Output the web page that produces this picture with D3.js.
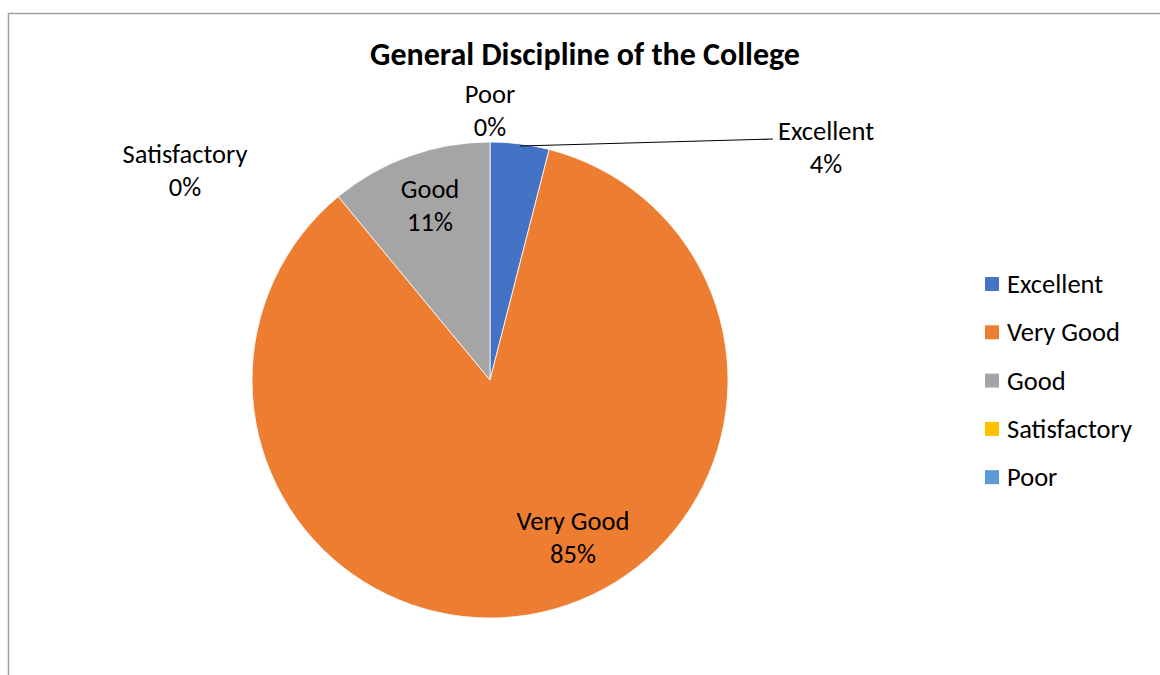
<!DOCTYPE html>
<html><head><meta charset="utf-8">
<script src="https://cdn.jsdelivr.net/npm/d3@7"></script>
<style>
html,body{margin:0;padding:0;background:#fff;}
svg{display:block;font-family:Carlito,Lato,"Open Sans",sans-serif;}
</style></head>
<body><svg id="c" width="1160" height="675"></svg>
<script>
const categories = ["Excellent","Very Good","Good","Satisfactory","Poor"];
const values = [4, 85, 11, 0, 0];
const colors = ["#4472C4","#ED7D31","#A5A5A5","#FFC000","#5B9BD5"];
const title = "General Discipline of the College";

const svg = d3.select("#c");
const W = 1160, H = 675;
const cx = 490, cy = 380, R = 238;
const fs = 26.5;

// frame
svg.append("path").attr("d", `M8.5,${H} L8.5,13.5 L${W},13.5`).attr("fill","none").attr("stroke","#a0a0a0").attr("stroke-width",1.5);

svg.append("text").attr("x",585).attr("y",65).attr("text-anchor","middle")
  .attr("font-size",32).attr("font-weight","bold").attr("fill","#000").text(title);

const data = categories.map((c,i)=>({cat:c, value:values[i], color:colors[i]}));
const pie = d3.pie().sort(null).value(d=>d.value);
const arcs = pie(data);
const arc = d3.arc().innerRadius(0).outerRadius(R);
const g = svg.append("g").attr("transform",`translate(${cx},${cy})`);
g.selectAll("path").data(arcs).join("path")
  .attr("d",arc).attr("fill",d=>d.data.color)
  .attr("stroke","#fff").attr("stroke-width",d=>d.data.value>0?0.8:0);

// label placement (layout offsets relative to pie centre)
const labelPos = {
  "Excellent":[336,-240],
  "Very Good":[83,150],
  "Good":[-60,-182],
  "Satisfactory":[-305,-217],
  "Poor":[0,-277]
};
const total = d3.sum(values);
arcs.forEach(a=>{
  const [dx,dy] = labelPos[a.data.cat];
  const t = g.append("text").attr("text-anchor","middle").attr("font-size",fs).attr("fill","#000");
  t.append("tspan").attr("x",dx).attr("y",dy).text(a.data.cat);
  t.append("tspan").attr("x",dx).attr("y",dy+33).text(Math.round(a.data.value/total*100)+"%");
});
// leader line for Excellent
g.append("path").attr("d",`M30,-234 L283,-241`)
  .attr("fill","none").attr("stroke","#000").attr("stroke-width",1.2);

// legend
const lg = svg.append("g").attr("transform","translate(985,284)");
const items = lg.selectAll("g").data(data).join("g").attr("transform",(d,i)=>`translate(0,${i*48.3})`);
items.append("rect").attr("x",0).attr("y",-7).attr("width",14).attr("height",14).attr("fill",d=>d.color);
items.append("text").attr("x",22).attr("y",9).attr("font-size",fs).attr("fill","#000").text(d=>d.cat);
</script></body></html>
